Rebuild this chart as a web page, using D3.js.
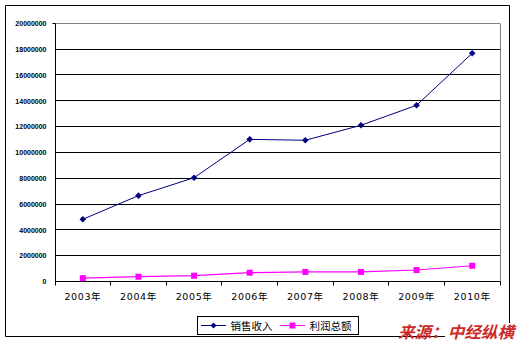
<!DOCTYPE html>
<html>
<head>
<meta charset="utf-8">
<script src="https://cdn.jsdelivr.net/npm/d3@7"></script>
<style>
  html, body { margin: 0; padding: 0; background: #fff; }
  svg { display: block; }
</style>
</head>
<body>
<svg id="chart" width="521" height="344"></svg>
<script>
// Annual sales revenue and total profit, 2003–2010
const years = ["2003年", "2004年", "2005年", "2006年", "2007年", "2008年", "2009年", "2010年"];
const sales = [4820000, 6650000, 8040000, 11010000, 10940000, 12100000, 13650000, 17680000];
const profit = [260000, 370000, 450000, 680000, 740000, 740000, 890000, 1220000];
const yTicks = [0, 2000000, 4000000, 6000000, 8000000, 10000000, 12000000, 14000000, 16000000, 18000000, 20000000];
const seriesNames = ["销售收入", "利润总额"];
const sourceText = "来源：中经纵横";

const svg = d3.select("#chart");
const W = 521, H = 344;
const plot = { left: 55, right: 500, top: 23.3, bottom: 281.5 };

svg.append("rect").attr("width", W).attr("height", H).attr("fill", "#fff");

// Outer frame (bottom-right corner left open for the source note)
svg.append("path")
  .attr("d", "M445,336.5 L5.5,336.5 L5.5,5.5 L509.5,5.5 L509.5,323")
  .attr("fill", "none").attr("stroke", "#000").attr("stroke-width", 1);

const x = d3.scaleBand().domain(years).range([plot.left, plot.right]).padding(0);
const y = d3.scaleLinear().domain([0, 20000000]).range([plot.bottom, plot.top]);
const cx = d => x(d) + x.bandwidth() / 2;
const snap = v => Math.round(v - 0.5) + 0.5;

// Horizontal gridlines
svg.append("g").selectAll("line").data(yTicks.filter(t => t > 0)).join("line")
  .attr("x1", plot.left).attr("x2", plot.right)
  .attr("y1", d => snap(y(d))).attr("y2", d => snap(y(d)))
  .attr("stroke", d => d === 20000000 ? "#808080" : "#000")
  .attr("stroke-width", 1);

// Right edge of the plot area
svg.append("line")
  .attr("x1", snap(plot.right)).attr("x2", snap(plot.right))
  .attr("y1", snap(y(20000000))).attr("y2", snap(plot.bottom))
  .attr("stroke", "#808080");

// Y axis
const yAxis = d3.axisLeft(y).tickValues(yTicks).tickSize(0).tickPadding(9).tickFormat(d3.format("d"));
const gy = svg.append("g").attr("transform", `translate(${snap(plot.left)},0)`).call(yAxis);
gy.select(".domain").attr("stroke", "#000").attr("d", `M0,${snap(plot.bottom)}V${snap(y(20000000))}H-3`);
gy.selectAll("text")
  .attr("font-family", "Arial, 'Liberation Sans', sans-serif")
  .attr("font-size", 7).attr("font-weight", "bold").attr("fill", "#000");

// X axis with ticks on category boundaries
const gx = svg.append("g").attr("transform", `translate(0,${snap(plot.bottom)})`);
gx.append("line").attr("x1", plot.left).attr("x2", plot.right + 0.5).attr("stroke", "#000");
gx.selectAll("line.tick").data(years.concat(["end"])).join("line").attr("class", "tick")
  .attr("x1", d => snap(d === "end" ? plot.right : x(d)))
  .attr("x2", d => snap(d === "end" ? plot.right : x(d)))
  .attr("y1", 0).attr("y2", 4).attr("stroke", "#000");
gx.selectAll("text").data(years).join("text")
  .attr("x", d => cx(d)).attr("y", 18)
  .attr("text-anchor", "middle")
  .attr("font-family", "'DejaVu Sans', 'Noto Sans CJK SC', sans-serif")
  .attr("font-size", 9.5).attr("letter-spacing", 0.6).attr("fill", "#000")
  .text(d => d);

const line = d3.line().x((d, i) => cx(years[i])).y(d => y(d));

// Profit series (magenta, square markers)
svg.append("path").datum(profit).attr("d", line)
  .attr("fill", "none").attr("stroke", "#ff00ff").attr("stroke-width", 1.2);
svg.append("g").selectAll("rect").data(profit).join("rect")
  .attr("x", (d, i) => cx(years[i]) - 3).attr("y", d => y(d) - 3)
  .attr("width", 6).attr("height", 6).attr("fill", "#ff00ff");

// Sales series (navy, diamond markers: rotated squares)
svg.append("path").datum(sales).attr("d", line)
  .attr("fill", "none").attr("stroke", "#000080").attr("stroke-width", 1);
svg.append("g").selectAll("path").data(sales).join("path")
  .attr("transform", (d, i) => `translate(${cx(years[i])},${y(d)}) rotate(45)`)
  .attr("d", d3.symbol().type(d3.symbolSquare).size(22))
  .attr("fill", "#000080");

// Legend
const lg = svg.append("g");
lg.append("rect").attr("x", 197.5).attr("y", 316.5).attr("width", 161).attr("height", 18)
  .attr("fill", "#fff").attr("stroke", "#000");
const legendItems = [
  { name: seriesNames[0], color: "#000080", x0: 201, shape: "diamond" },
  { name: seriesNames[1], color: "#ff00ff", x0: 280, shape: "square" }
];
legendItems.forEach(it => {
  lg.append("line").attr("x1", it.x0).attr("x2", it.x0 + 25).attr("y1", 325.5).attr("y2", 325.5)
    .attr("stroke", it.color).attr("stroke-width", 1);
  if (it.shape === "diamond") {
    lg.append("path").attr("transform", `translate(${it.x0 + 12.5},325.5) rotate(45)`)
      .attr("d", d3.symbol().type(d3.symbolSquare).size(18)).attr("fill", it.color);
  } else {
    lg.append("rect").attr("x", it.x0 + 9.5).attr("y", 322.5).attr("width", 6).attr("height", 6).attr("fill", it.color);
  }
  lg.append("text").attr("x", it.x0 + 29.5).attr("y", 329.8)
    .attr("font-family", "'Noto Sans CJK SC', sans-serif").attr("font-size", 10.5)
    .attr("fill", "#000").text(it.name);
});

// Source note
svg.append("text").attr("x", 398).attr("y", 337.5)
  .attr("font-family", "'Noto Sans CJK SC', sans-serif")
  .attr("font-size", 16).attr("font-weight", "bold").attr("font-style", "italic")
  .attr("fill", "#cc2a2a").attr("textLength", 116).attr("lengthAdjust", "spacingAndGlyphs")
  .text(sourceText);
</script>
</body>
</html>
